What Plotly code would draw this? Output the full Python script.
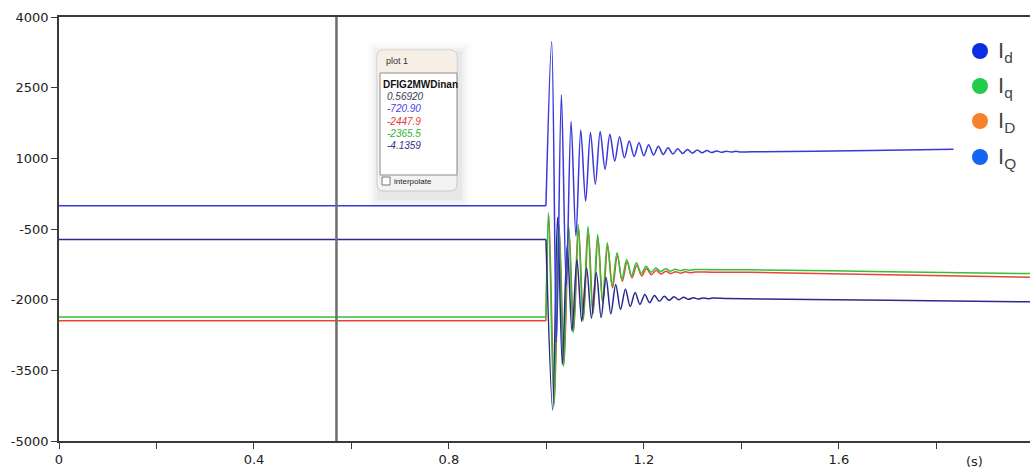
import plotly.graph_objects as go

# ---------------- data ----------------
# upper blue trace (settles near +1150 after the fault)
t_a = [0, 0.999,
       1.0107, 1.0206, 1.0306, 1.0406, 1.0505, 1.0605, 1.0704, 1.0804, 1.0903, 1.1003,
       1.1102, 1.1202, 1.1301, 1.1401, 1.1500, 1.1600, 1.1699, 1.1799, 1.1898, 1.1998,
       1.2097, 1.2197, 1.2296, 1.2396, 1.2495, 1.2595, 1.2694, 1.2794, 1.2893, 1.2993,
       1.3092, 1.3192, 1.3291, 1.3391, 1.3490, 1.3590, 1.3689, 1.3789, 1.3888, 1.3988,
       1.42, 1.55, 1.70, 1.835]
v_a = [-4.1, -4.1,
       3480, -2900, 2350, -1700, 1780, -650, 1600, 90, 1550, 450,
       1570, 770, 1510, 940, 1460, 1010, 1370, 1040, 1330, 1055,
       1290, 1068, 1255, 1080, 1225, 1092, 1205, 1102, 1188, 1110,
       1175, 1117, 1165, 1123, 1158, 1128, 1152, 1132, 1148, 1135,
       1140, 1150, 1170, 1195]

# lower blue (navy) trace (settles near -2000 after the fault)
t_b = [0, 0.999,
       1.0127, 1.0227, 1.0326, 1.0426, 1.0525, 1.0625, 1.0724, 1.0824, 1.0923, 1.1023,
       1.1122, 1.1222, 1.1321, 1.1421, 1.1520, 1.1620, 1.1719, 1.1819, 1.1918, 1.2018,
       1.2117, 1.2217, 1.2316, 1.2416, 1.2515, 1.2615, 1.2714, 1.2814, 1.2913, 1.3013,
       1.3112, 1.3212, 1.3311, 1.3411,
       1.37, 1.44, 1.70, 1.992]
v_b = [-720.9, -720.9,
       -4340, -250, -3380, -850, -2670, -1150, -2460, -1330, -2390, -1430,
       -2380, -1530, -2300, -1680, -2210, -1780, -2145, -1850, -2100, -1890,
       -2065, -1910, -2035, -1928, -2015, -1940, -2000, -1950, -1992, -1958,
       -1985, -1963, -1980, -1967,
       -1975, -1985, -2015, -2045]

# green trace
t_g = [0, 0.999, 1.0041,
       1.0154, 1.0254, 1.0353, 1.0453, 1.0552, 1.0652, 1.0751, 1.0851, 1.0950, 1.1050,
       1.1149, 1.1249, 1.1348, 1.1448, 1.1547, 1.1647, 1.1746, 1.1846, 1.1945, 1.2045,
       1.2144, 1.2244, 1.2343, 1.2443, 1.2542, 1.2642, 1.2741, 1.2841, 1.2940, 1.3040,
       1.34, 1.42, 1.70, 1.992]
v_g = [-2365.5, -2365.5, -150,
       -4270, -380, -3420, -420, -2700, -404, -2450, -440, -2300, -617,
       -2050, -794, -1720, -1006, -1570, -1149, -1490, -1219, -1445, -1290,
       -1420, -1326, -1405, -1343, -1395, -1352, -1385, -1358, -1378, -1360,
       -1365, -1365, -1405, -1447]

# red trace
t_r = [0, 0.999, 1.0049,
       1.0162, 1.0262, 1.0361, 1.0461, 1.0560, 1.0660, 1.0759, 1.0859, 1.0958, 1.1058,
       1.1157, 1.1257, 1.1356, 1.1456, 1.1555, 1.1655, 1.1754, 1.1854, 1.1953, 1.2053,
       1.2152, 1.2252, 1.2351, 1.2451, 1.2550, 1.2650, 1.2749, 1.2849, 1.2948, 1.3048,
       1.34, 1.42, 1.70, 1.992]
v_r = [-2447.9, -2447.9, -200,
       -4200, -450, -3350, -500, -2650, -480, -2420, -520, -2290, -690,
       -2070, -860, -1750, -1060, -1610, -1200, -1535, -1270, -1495, -1340,
       -1470, -1378, -1455, -1395, -1445, -1405, -1437, -1410, -1430, -1413,
       -1418, -1420, -1470, -1525]

y_ticks = [-5000, -3500, -2000, -500, 1000, 2500, 4000]
y_ticktext = ["-5000", "-3500", "-2000", "-500", "1000", "2500", "4000"]
x_ticks = [0, 0.4, 0.8, 1.2, 1.6]
x_ticktext = ["0", "0.4", "0.8", "1.2", "1.6"]

cursor_t = 0.5692
tooltip_title = "plot 1"
tooltip_model = "DFIG2MWDinan"
tooltip_values = ["0.56920", "-720.90", "-2447.9", "-2365.5", "-4.1359"]
tooltip_colors = ["#3a3a5a", "#4646e6", "#e23c3c", "#38b038", "#343488"]

legend_labels = ["I<sub>d</sub>", "I<sub>q</sub>", "I<sub>D</sub>", "I<sub>Q</sub>"]
legend_colors = ["#0c2ee2", "#22cc48", "#f6802c", "#1664f2"]

# ---------------- layout geometry (pixels) ----------------
W, H = 1030, 468
L, R, T, B = 59, 0, 17, 27
PW, PH = W - L - R, H - T - B


def px(x):
    return (x - L) / PW


def py(y):
    return (H - B - y) / PH


fig = go.Figure()
line_specs = [
    ("red", t_r, v_r, "#e8453a"),
    ("green", t_g, v_g, "#34c034"),
    ("navy", t_b, v_b, "#2a2a8c"),
    ("blue", t_a, v_a, "#3838dc"),
]
for name, tx, vy, col in line_specs:
    # steady pre-fault part: straight line
    fig.add_trace(go.Scatter(x=tx[:2], y=vy[:2], mode="lines", name=name,
                             line=dict(color=col, width=1.5),
                             showlegend=False, hoverinfo="skip"))
    # transient part: smooth curve through the read extrema
    fig.add_trace(go.Scatter(x=tx[1:], y=vy[1:], mode="lines", name=name,
                             line=dict(color=col, width=1.5, shape="spline", smoothing=0.9),
                             showlegend=False, hoverinfo="skip"))

shapes = []
annotations = []

# cursor line
shapes.append(dict(type="line", xref="x", yref="paper", x0=cursor_t, x1=cursor_t, y0=0, y1=1,
                   line=dict(color="#6e6e6e", width=2.5), layer="above"))

# tooltip box
bl, br, bt, bb = 377, 457, 50, 191
tb, cb = 73, 175
for i, a in enumerate([0.012, 0.018, 0.025, 0.035]):
    d = 12 - 3 * i
    shapes.append(dict(type="rect", xref="paper", yref="paper",
                       x0=px(bl - d + 3), x1=px(br + d + 2), y0=py(bb + d + 6), y1=py(bt - d + 4),
                       fillcolor=f"rgba(0,0,0,{a})", line=dict(width=0), layer="above"))


def rounded(x0, y0, x1, y1, r):
    X0, X1 = px(x0), px(x1)
    Y0, Y1 = py(y0), py(y1)
    rx, ry = r / PW, r / PH
    return (f"M {X0+rx},{Y0} L {X1-rx},{Y0} Q {X1},{Y0} {X1},{Y0-ry} "
            f"L {X1},{Y1+ry} Q {X1},{Y1} {X1-rx},{Y1} L {X0+rx},{Y1} "
            f"Q {X0},{Y1} {X0},{Y1+ry} L {X0},{Y0-ry} Q {X0},{Y0} {X0+rx},{Y0} Z")


shapes.append(dict(type="path", xref="paper", yref="paper", path=rounded(bl, bt, br, bb, 7),
                   fillcolor="#f3f3f3", line=dict(color="#c9c9c9", width=1), layer="above"))
shapes.append(dict(type="path", xref="paper", yref="paper", path=rounded(bl + 0.5, bt + 0.5, br - 0.5, tb + 6, 6),
                   fillcolor="#f7efe6", line=dict(width=0), layer="above"))
shapes.append(dict(type="rect", xref="paper", yref="paper",
                   x0=px(bl + 0.5), x1=px(br - 0.5), y0=py(tb + 6), y1=py(tb),
                   fillcolor="#f7efe6", line=dict(width=0), layer="above"))
shapes.append(dict(type="rect", xref="paper", yref="paper",
                   x0=px(bl + 3), x1=px(br), y0=py(cb), y1=py(tb),
                   fillcolor="#ffffff", line=dict(color="#8a8a8a", width=1), layer="above"))
shapes.append(dict(type="rect", xref="paper", yref="paper",
                   x0=px(382), x1=px(390), y0=py(185), y1=py(177),
                   fillcolor="#ffffff", line=dict(color="#777777", width=1), layer="above"))

annotations.append(dict(xref="paper", yref="paper", x=px(384), y=py(61), text=tooltip_title,
                        showarrow=False, xanchor="left", yanchor="middle",
                        font=dict(family="Liberation Sans", size=9, color="#333333")))
annotations.append(dict(xref="paper", yref="paper", x=px(380.5), y=py(84.5), text=f"<b>{tooltip_model}</b>",
                        showarrow=False, xanchor="left", yanchor="middle",
                        font=dict(family="Liberation Sans", size=10, color="#111111")))
for i, (val, col) in enumerate(zip(tooltip_values, tooltip_colors)):
    annotations.append(dict(xref="paper", yref="paper", x=px(385), y=py(96.7 + 12.3 * i),
                            text=f"<i>{val}</i>", showarrow=False, xanchor="left", yanchor="middle",
                            font=dict(family="Liberation Sans", size=10, color=col)))
annotations.append(dict(xref="paper", yref="paper", x=px(392), y=py(181), text="interpolate",
                        showarrow=False, xanchor="left", yanchor="middle",
                        font=dict(family="Liberation Sans", size=8, color="#222222")))

# legend (marker dots + labels)
leg_y = [51, 86, 121, 157]
for lab, col, yy in zip(legend_labels, legend_colors, leg_y):
    shapes.append(dict(type="circle", xref="paper", yref="paper", xsizemode="pixel", ysizemode="pixel",
                       xanchor=px(980), yanchor=py(yy), x0=-8, x1=8, y0=-8, y1=8,
                       fillcolor=col, line=dict(width=0), layer="above"))
    annotations.append(dict(xref="paper", yref="paper", x=px(996), y=py(yy + 1), text=lab,
                            showarrow=False, xanchor="left", yanchor="middle",
                            font=dict(family="Liberation Sans", size=22, color="#444444")))

# unit label on x axis
annotations.append(dict(xref="paper", yref="paper", x=px(974), y=py(461), text="(s)",
                        showarrow=False, xanchor="center", yanchor="middle",
                        font=dict(family="DejaVu Sans", size=13, color="#222222")))

fig.update_layout(
    width=W, height=H,
    margin=dict(l=L, r=R, t=T, b=B, pad=0),
    paper_bgcolor="white", plot_bgcolor="white",
    font=dict(family="DejaVu Sans", size=13, color="#222222"),
    showlegend=False,
    shapes=shapes, annotations=annotations,
    xaxis=dict(range=[0, 1.992], tickvals=x_ticks, ticktext=x_ticktext,
               showgrid=False, zeroline=False, showline=True, linecolor="#3a3a3a", linewidth=1.5,
               mirror=True, ticks="outside", ticklen=6, tickcolor="#3a3a3a", tickwidth=1.2,
               minor=dict(tick0=0, dtick=0.2, ticks="outside", ticklen=6,
                          tickcolor="#3a3a3a", tickwidth=1.2, showgrid=False)),
    yaxis=dict(range=[-5000, 4000], tickvals=y_ticks, ticktext=y_ticktext,
               showgrid=False, zeroline=False, showline=True, linecolor="#3a3a3a", linewidth=1.5,
               ticks="outside", ticklen=6, tickcolor="#3a3a3a", tickwidth=1.2),
)

fig.write_html("out.html")
